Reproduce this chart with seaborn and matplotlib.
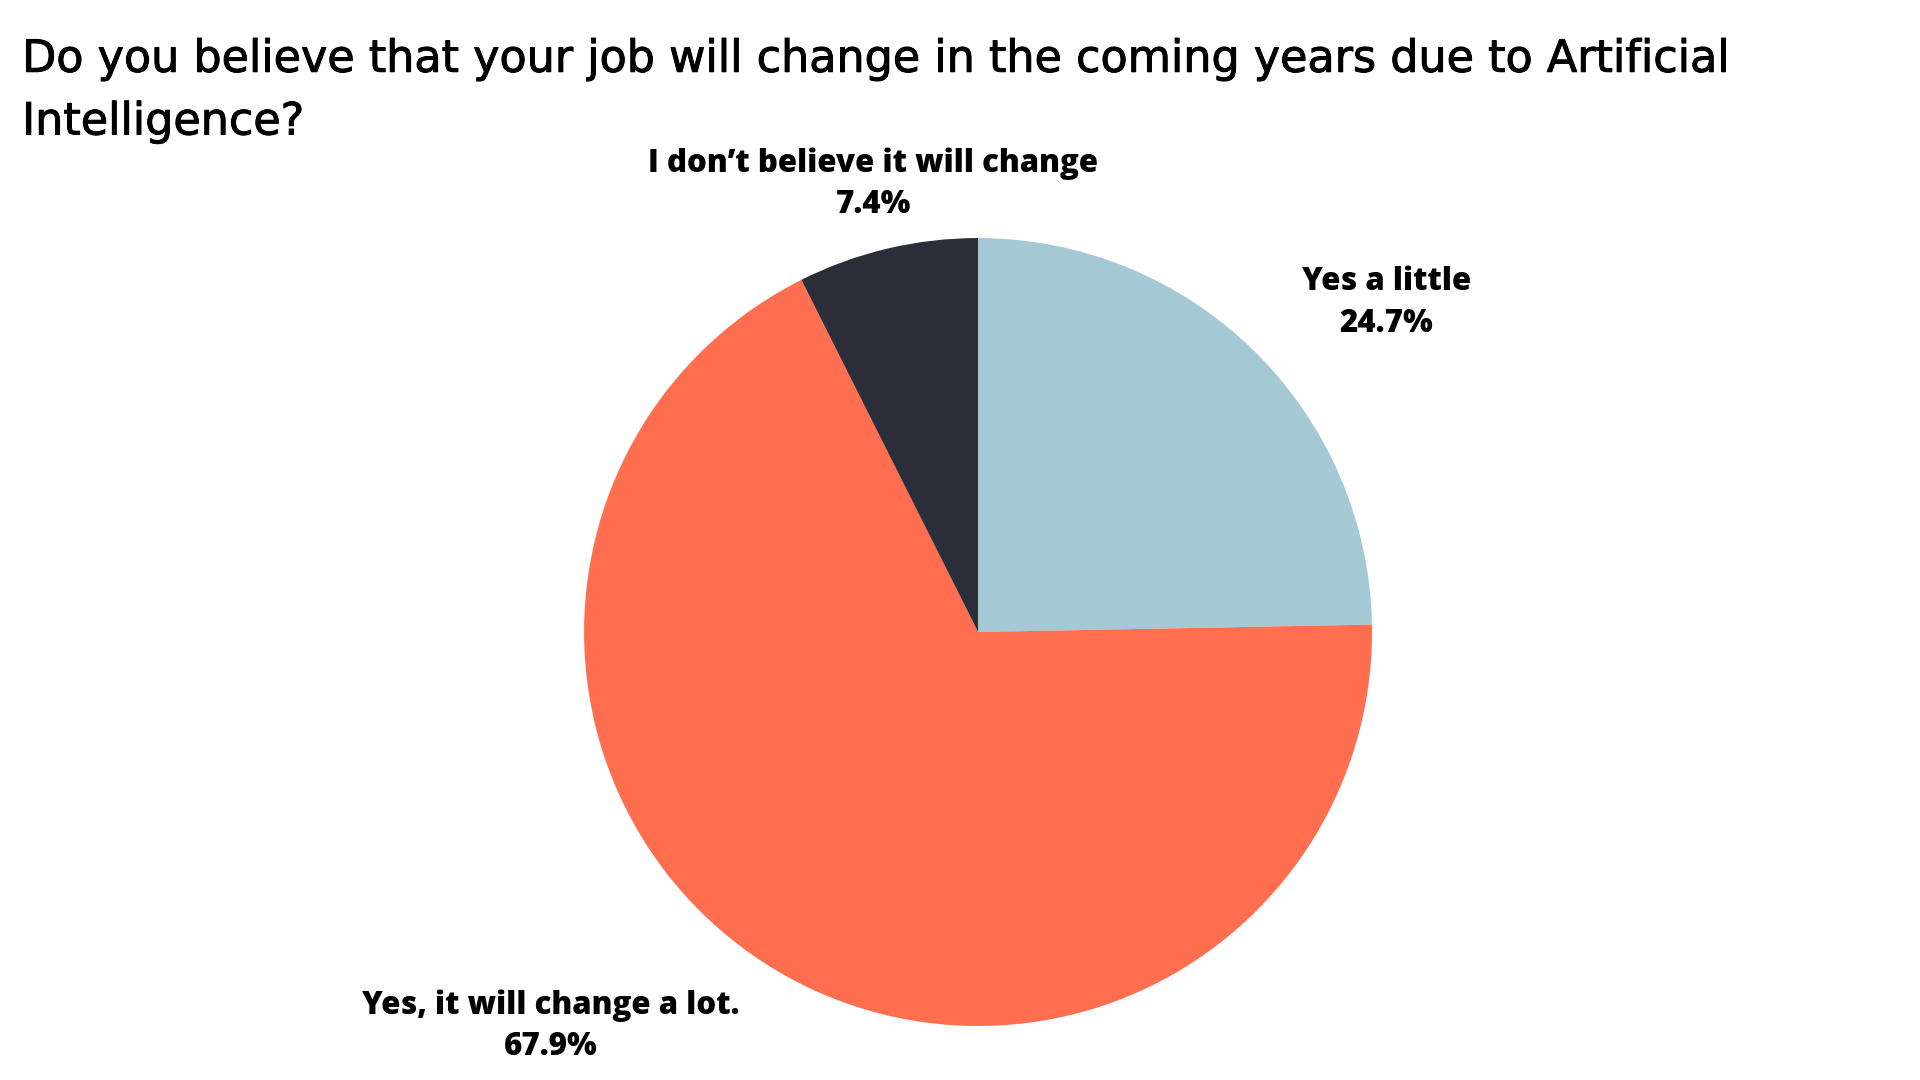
import matplotlib
matplotlib.use("Agg")
import matplotlib.pyplot as plt
import matplotlib.patheffects as pe
import seaborn as sns

# ---- data ----
categories = ["Yes a little", "Yes, it will change a lot.", "I don\u2019t believe it will change"]
shares = [24.7, 67.9, 7.4]
colors = ["#A5C8D5", "#FF6E4F", "#2B2E38"]
title = "Do you believe that your job will change in the coming years due to Artificial\nIntelligence?"

sns.set_theme(style="white")
plt.rcParams["font.family"] = ["Open Sans", "DejaVu Sans"]

fig = plt.figure(figsize=(19.2, 10.8), dpi=100)
fig.patch.set_facecolor("white")

ax = fig.add_axes([0.3042, 0.05, 0.4104, 0.7296])
# clockwise from 12 o'clock: light blue, orange, dark
wedges, _ = ax.pie(shares, colors=colors, startangle=90, counterclock=False,
                   radius=1.0, wedgeprops=dict(linewidth=0))
ax.set_xlim(-1, 1)
ax.set_ylim(-1, 1)
ax.set_aspect("equal")
ax.axis("off")

# labels
label_pos = [(0.722, 0.7195), (0.287, 0.050), (0.4547, 0.8295)]
for cat, val, (x, y) in zip(categories, shares, label_pos):
    fig.text(x, y, f"{cat}\n{val:.1f}%", ha="center", va="center",
             fontsize=22.5, fontweight="heavy", color="#000000",
             linespacing=1.38, family=["Open Sans", "DejaVu Sans"])

fig.text(0.0115, 0.965, title, ha="left", va="top", fontsize=32,
         fontweight="normal", color="#000000", linespacing=1.58,
         family=["DejaVu Sans"],
         path_effects=[pe.withStroke(linewidth=0.7, foreground="#000000")])

fig.savefig("out.png", dpi=100, facecolor="white")
